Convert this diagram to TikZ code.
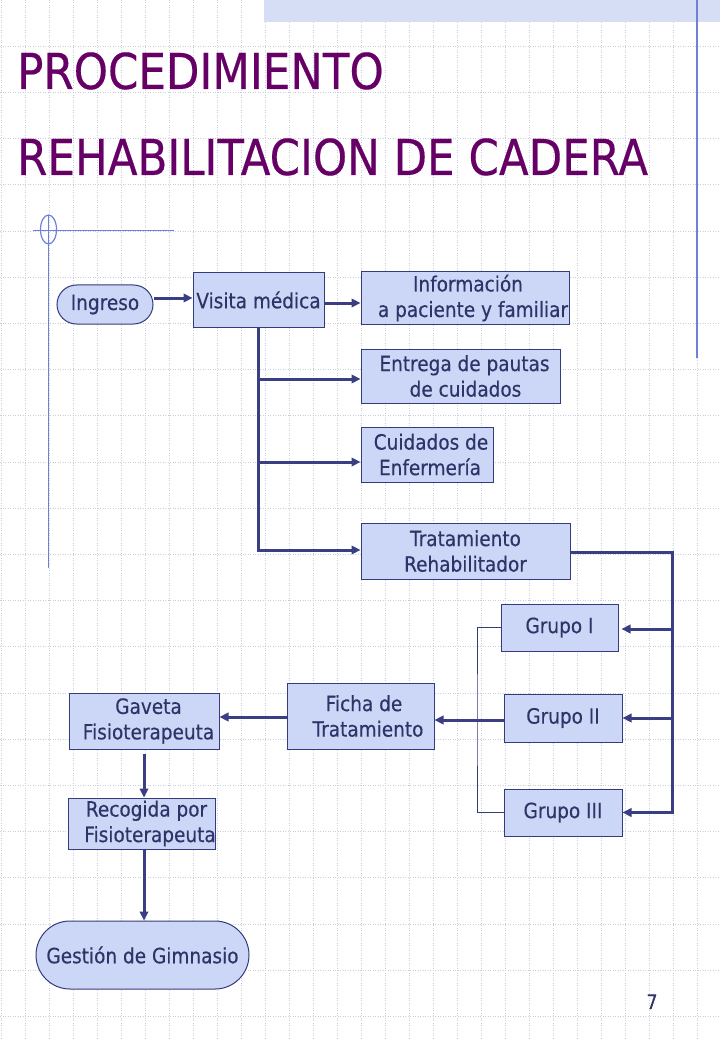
\documentclass[tikz,border=0pt]{standalone}
\usepackage{fontspec}
\setmainfont{DejaVu Sans}[FakeStretch=0.88, FakeBold=0.35]
\usetikzlibrary{arrows.meta}
\definecolor{boxfill}{HTML}{CCD6F6}
\definecolor{boxdraw}{HTML}{343C7C}
\definecolor{txtcol}{HTML}{2E3468}
\definecolor{arrcol}{HTML}{3A3F84}
\definecolor{titlecol}{HTML}{660066}
\definecolor{decocol}{HTML}{6F80D8}
\definecolor{gridcol}{HTML}{C8CEDC}
\definecolor{bandcol}{HTML}{D6DEF5}
\newcommand{\txsh}[2]{\hbox{\kern#1\relax #2\kern-#1\relax}}
\begin{document}
\begin{tikzpicture}[x=1pt,y=-1pt,
  box/.style={draw=boxdraw, line width=1pt, fill=boxfill, text=txtcol, inner sep=0pt, align=center, font=\fontsize{21}{25.5}\selectfont},
  pill/.style={box, rounded corners=#1},
  conn/.style={draw=arrcol, line width=3pt},
  arr/.style={conn, -{Triangle[length=9pt,width=8.5pt]}},
  thinline/.style={draw=boxdraw, line width=0.8pt},
  deco/.style={draw=decocol, line width=1.2pt},
  gridline/.style={draw=gridcol, line width=0.8pt, dash pattern=on 1pt off 1.5pt},
  titletext/.style={anchor=base west, inner sep=0pt, text=titlecol, font=\fontsize{49.5}{59}\selectfont}]
\useasboundingbox (0,0) rectangle (720,1040);
\fill[white] (0,0) rectangle (720,1040);
% grid
\foreach \i in {0,...,29} \draw[gridline] (24*\i+1,0) -- (24*\i+1,1040);
\foreach \j in {1,...,22} \draw[gridline] (0,46.2*\j) -- (720,46.2*\j);
% decorations
\fill[bandcol] (264,0) rectangle (720,22);
\draw[deco] (697,0) -- (697,358);
\draw[deco] (48.5,215) -- (48.5,568);
\draw[deco] (33,230.5) -- (174,230.5);
\draw[deco] (48.5,229.5) ellipse [x radius=8pt, y radius=14.5pt];
% title
\node[titletext] (t1) at (17,89) {PROCEDIMIENTO};
\node[titletext] (t2) at (17,175) {REHABILITACION DE CADERA};
% nodes
\node[pill=19.5pt, minimum width=96pt, minimum height=39pt] (ingreso) at (105,304.5) {Ingreso};
\node[box, minimum width=131pt, minimum height=54pt] (visita) at (258.5,300) {Visita médica};
\node[box, minimum width=208pt, minimum height=52pt] (info) at (465,298) {\txsh{3pt}{Información}\\ \txsh{8pt}{a paciente y familiar}};
\node[box, minimum width=199pt, minimum height=54pt] (entrega) at (460.5,376) {\txsh{4pt}{Entrega de pautas}\\\txsh{5pt}{de cuidados}};
\node[box, minimum width=132pt, minimum height=55pt] (cuidados) at (427,454.5) {\txsh{4pt}{Cuidados de}\\\txsh{3pt}{Enfermería}};
\node[box, minimum width=209pt, minimum height=56pt] (trat) at (465.5,551) {Tratamiento\\Rehabilitador};
\node[box, minimum width=117pt, minimum height=47pt] (g1) at (559.5,627.5) {Grupo I};
\node[box, minimum width=118pt, minimum height=48pt] (g2) at (563,718) {Grupo II};
\node[box, minimum width=118pt, minimum height=47pt] (g3) at (563,812.5) {Grupo III};
\node[box, minimum width=147pt, minimum height=66pt] (ficha) at (360.5,716) {\txsh{3.5pt}{Ficha de}\\\txsh{7.5pt}{Tratamiento}};
\node[box, minimum width=150pt, minimum height=56pt] (gaveta) at (144,721) {\txsh{4.5pt}{Gaveta}\\\txsh{4.5pt}{Fisioterapeuta}};
\node[box, minimum width=147pt, minimum height=51pt] (recogida) at (141.5,823.5) {\txsh{5pt}{Recogida por}\\\txsh{8.5pt}{Fisioterapeuta}};
\node[pill=34pt, minimum width=213pt, minimum height=68pt] (gestion) at (142.5,955) {Gestión de Gimnasio};
\node[anchor=base, inner sep=0pt, text=txtcol, font=\fontsize{20}{22}\selectfont] (pnum) at (652,1009) {7};
% connectors
\draw[arr] ([yshift=6.5pt]ingreso.east) -- ([yshift=2pt]visita.west);
\draw[arr] ([yshift=-3pt]visita.east) -- ([yshift=-5pt]info.west);
\draw[arr] (visita.south) |- ([yshift=1pt]trat.west);
\draw[arr] (visita.south |- entrega.west) ++(0,3) -- ([yshift=-3pt]entrega.west);
\draw[arr] (visita.south |- cuidados.west) ++(0,7.5) -- ([yshift=-7.5pt]cuidados.west);
\coordinate (rb) at (672,812.5);
\draw[arr] ([yshift=-1pt]trat.east) -| (rb) -- (g3.east);
\draw[arr] (rb |- g1.east) ++(0,1.5) -- ([yshift=-1.5pt,xshift=3pt]g1.east);
\draw[arr] (rb |- g2.east) -- (g2.east);
\coordinate (bl) at (477,720);
\draw[thinline] (g1.west) -| (bl) |- (g3.west);
\draw[arr] ([yshift=-2pt]g2.west) -- ([yshift=-4pt]ficha.east);
\draw[arr] ([yshift=-1pt]ficha.west) -- ([yshift=4pt]gaveta.east);
\coordinate (vx) at (144,0);
\draw[arr] ([yshift=-4pt]gaveta.south) -- (recogida.north -| vx);
\draw[arr] (recogida.south -| vx) -- (gestion.north -| vx);
\end{tikzpicture}
\end{document}
